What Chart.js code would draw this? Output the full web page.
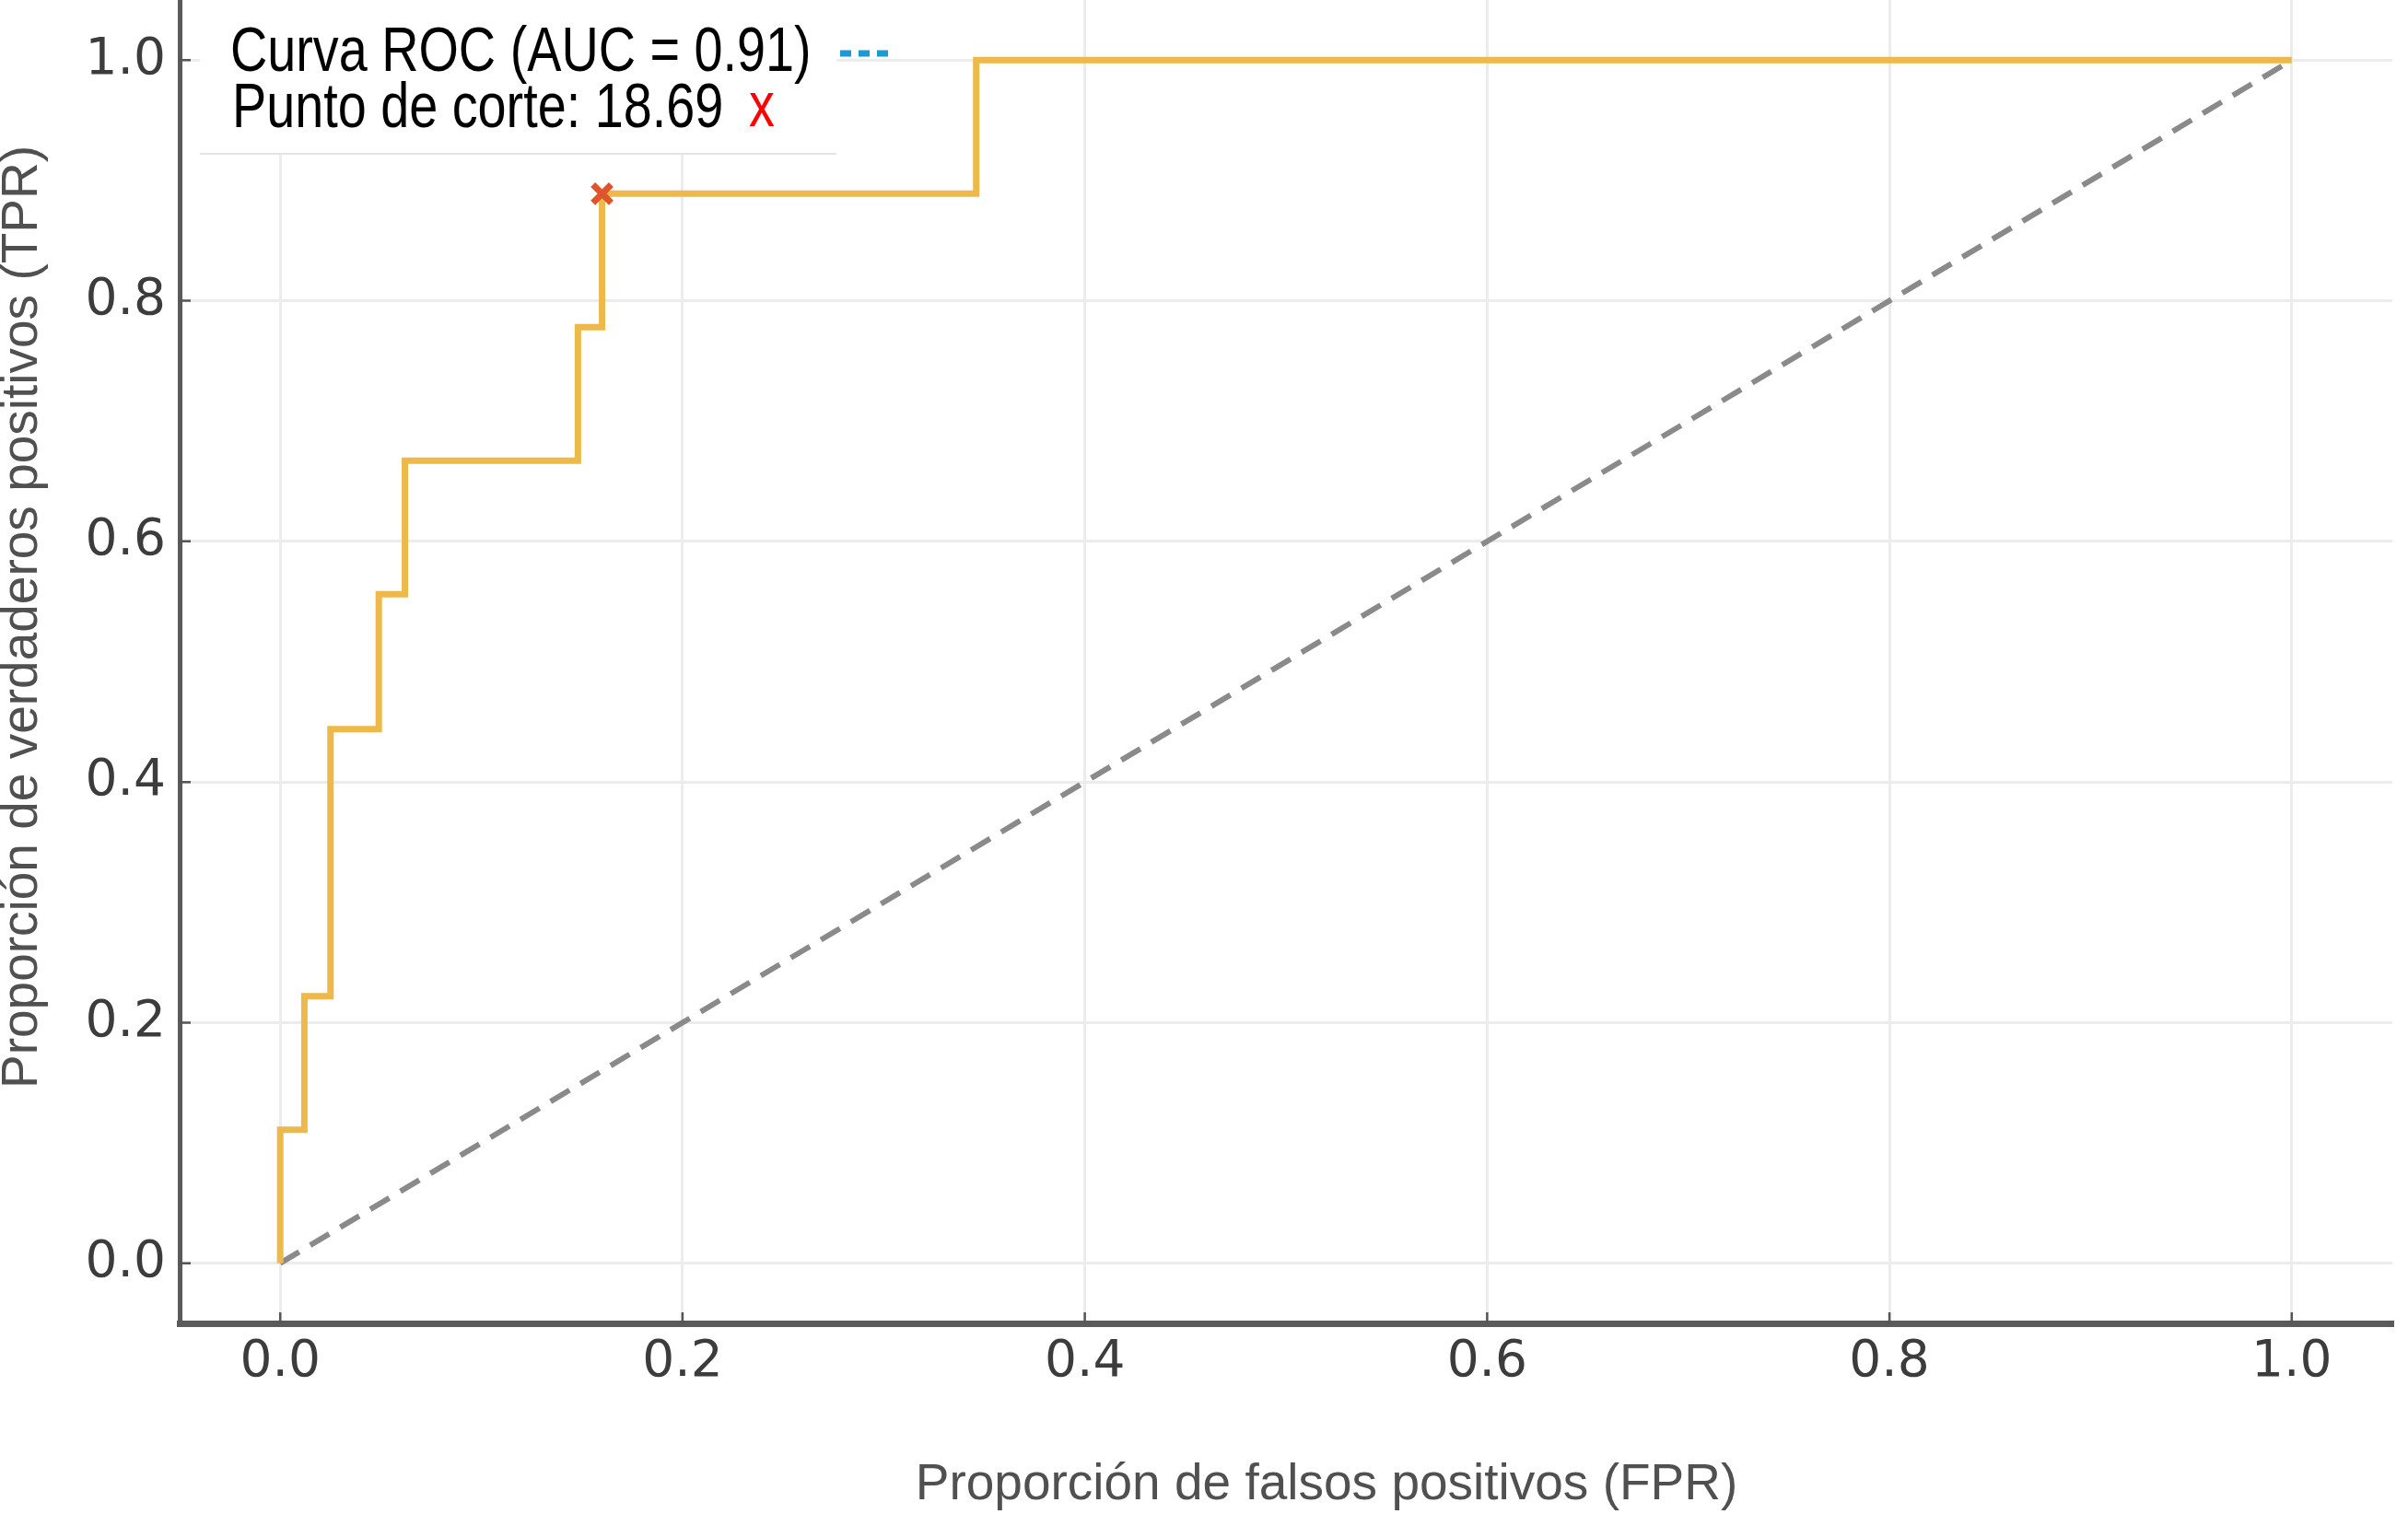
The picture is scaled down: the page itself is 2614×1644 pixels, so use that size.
<!DOCTYPE html>
<html lang="es">
<head>
<meta charset="utf-8">
<title>Curva ROC</title>
<script src="https://cdn.jsdelivr.net/npm/chart.js@4.4.1/dist/chart.umd.min.js"></script>
<style>
  html, body { margin: 0; padding: 0; background: #fff; }
  #contenedor { width: 2614px; height: 1644px; position: relative; }
</style>
</head>
<body>
<div id="contenedor"><canvas id="grafico-roc"></canvas></div>
<script>
// Datos de la curva ROC (esquinas de la escalera)
const fpr = [0, 0, 0.012, 0.012, 0.025, 0.025, 0.049, 0.049, 0.062, 0.062, 0.148, 0.148, 0.160, 0.160, 0.346, 0.346, 1.0];
const tpr = [0, 0.111, 0.111, 0.222, 0.222, 0.444, 0.444, 0.556, 0.556, 0.667, 0.667, 0.778, 0.778, 0.889, 0.889, 1.0, 1.0];

// Línea de referencia (azar)
const diagonalX = [0, 1];
const diagonalY = [0, 1];

// Punto de corte óptimo
const corteX = [0.160];
const corteY = [0.889];

// Marcas de los ejes
const marcasX = [0, 0.2, 0.4, 0.6, 0.8, 1.0];
const marcasY = [0, 0.2, 0.4, 0.6, 0.8, 1.0];

// Textos
const leyendaTextos = ['Curva ROC (AUC = 0.91)', 'Punto de corte: 18.69'];
const tituloX = 'Proporción de falsos positivos (FPR)';
const tituloY = 'Proporción de verdaderos positivos (TPR)';

let graficoROC;

function puntos(xs, ys) {
  return xs.map((x, i) => ({ x: x, y: ys[i] }));
}

// Marcas cortas hacia dentro, como en matplotlib
const marcasInternas = {
  id: 'marcasInternas',
  afterDatasetsDraw(chart) {
    const { ctx, chartArea, scales } = chart;
    ctx.save();
    ctx.strokeStyle = '#555';
    ctx.lineWidth = 2.5;
    ctx.beginPath();
    marcasX.forEach(v => {
      const px = scales.x.getPixelForValue(v);
      ctx.moveTo(px, chartArea.bottom);
      ctx.lineTo(px, chartArea.bottom - 12);
    });
    marcasY.forEach(v => {
      const py = scales.y.getPixelForValue(v);
      ctx.moveTo(chartArea.left, py);
      ctx.lineTo(chartArea.left + 12, py);
    });
    ctx.stroke();
    ctx.restore();
  }
};

// Títulos de los ejes (desplazados como en la figura original)
const titulosEjes = {
  id: 'titulosEjes',
  afterDraw(chart) {
    const ctx = chart.ctx;
    ctx.save();
    ctx.fillStyle = '#505050';
    ctx.font = '55px "Liberation Sans", Arial, sans-serif';
    ctx.textAlign = 'center';
    ctx.textBaseline = 'middle';
    ctx.fillText(tituloX, 1440, 1613);
    ctx.translate(25, 670);
    ctx.rotate(-Math.PI / 2);
    ctx.fillText(tituloY, 0, 0);
    ctx.restore();
  }
};

// Leyenda dibujada a mano (texto primero, símbolo después)
const leyenda = {
  id: 'leyenda',
  afterDraw(chart) {
    const ctx = chart.ctx;
    ctx.save();
    ctx.fillStyle = '#fff';
    ctx.fillRect(217, 0, 691, 167);
    ctx.strokeStyle = '#e4e4e4';
    ctx.lineWidth = 2;
    ctx.beginPath();
    ctx.moveTo(217, 167);
    ctx.lineTo(908, 167);
    ctx.stroke();

    ctx.font = '68px "Liberation Sans", Arial, sans-serif';
    ctx.textBaseline = 'alphabetic';
    ctx.fillStyle = '#000';
    // letra estrecha
    ctx.save();
    ctx.translate(250, 77);
    ctx.scale(0.82, 1);
    ctx.fillText(leyendaTextos[0], 0, 0);
    ctx.restore();
    ctx.save();
    ctx.translate(252, 138);
    ctx.scale(0.82, 1);
    ctx.fillText(leyendaTextos[1], 0, 0);
    ctx.restore();

    // símbolo azul discontinuo
    ctx.strokeStyle = '#1b9ad6';
    ctx.lineWidth = 7;
    ctx.setLineDash([12, 8]);
    ctx.beginPath();
    ctx.moveTo(912, 58);
    ctx.lineTo(964, 58);
    ctx.stroke();
    ctx.setLineDash([]);

    // x roja
    ctx.fillStyle = '#ff0000';
    ctx.save();
    ctx.translate(813, 137);
    ctx.scale(0.82, 1);
    ctx.fillText('x', 0, 0);
    ctx.restore();
    ctx.restore();
  }
};

function crearGrafico() {
  if (graficoROC) {
    graficoROC.destroy();
  }
  const ctx = document.getElementById('grafico-roc').getContext('2d');
  graficoROC = new Chart(ctx, {
    type: 'line',
    data: {
      datasets: [
        {
          label: 'Punto de corte',
          type: 'scatter',
          data: puntos(corteX, corteY),
          pointStyle: 'crossRot',
          pointRadius: 14,
          pointBorderWidth: 7,
          pointBorderColor: '#e0542c',
          pointBackgroundColor: '#e0542c',
          order: 0
        },
        {
          label: 'Curva ROC',
          data: puntos(fpr, tpr),
          borderColor: '#edb94a',
          borderWidth: 7,
          pointRadius: 0,
          tension: 0,
          fill: false,
          order: 1
        },
        {
          label: 'Azar',
          data: puntos(diagonalX, diagonalY),
          borderColor: '#8a8a8a',
          borderWidth: 6,
          borderDash: [24, 14],
          pointRadius: 0,
          fill: false,
          order: 2
        }
      ]
    },
    options: {
      responsive: true,
      maintainAspectRatio: false,
      devicePixelRatio: 1,
      animation: false,
      layout: { autoPadding: false, padding: { top: 0, right: 17, bottom: 0, left: 0 } },
      plugins: {
        legend: { display: false },
        tooltip: { enabled: false }
      },
      scales: {
        x: {
          type: 'linear',
          min: -0.05,
          max: 1.05,
          afterBuildTicks: s => { s.ticks = marcasX.map(v => ({ value: v })); },
          afterFit: s => { s.height = 207; s.paddingLeft = 0; s.paddingRight = 0; },
          grid: { color: '#ececec', lineWidth: 3, drawTicks: false },
          border: { display: true, color: '#5a5a5a', width: 7 },
          ticks: {
            padding: 10,
            maxRotation: 0,
            color: '#3c3c3c',
            font: { family: '"DejaVu Sans"', size: 55 },
            callback: v => v.toFixed(1)
          }
        },
        y: {
          type: 'linear',
          min: -0.05,
          max: 1.05,
          afterBuildTicks: s => { s.ticks = marcasY.map(v => ({ value: v })); },
          afterFit: s => { s.width = 195; s.paddingTop = 0; s.paddingBottom = 0; },
          grid: { color: '#ececec', lineWidth: 3, drawTicks: false },
          border: { display: true, color: '#5a5a5a', width: 5 },
          ticks: {
            padding: 15,
            color: '#3c3c3c',
            font: { family: '"DejaVu Sans"', size: 55 },
            callback: v => v.toFixed(1)
          }
        }
      }
    },
    plugins: [marcasInternas, titulosEjes, leyenda]
  });
}

document.addEventListener('DOMContentLoaded', function () {
  crearGrafico();
});
</script>
</body>
</html>
